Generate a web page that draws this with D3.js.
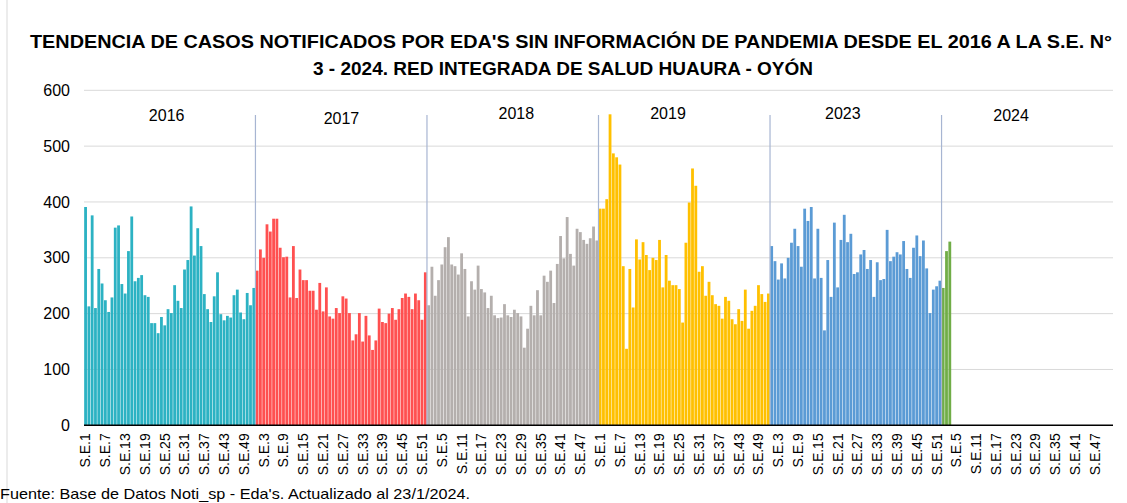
<!DOCTYPE html>
<html>
<head>
<meta charset="utf-8">
<script src="https://cdn.jsdelivr.net/npm/d3@7"></script>
<style>
  body { margin: 0; background: #fff; }
  svg { display: block; font-family: "Liberation Sans", Arial, sans-serif; }
</style>
</head>
<body>
<svg width="1127" height="503"></svg>
<script>
// weekly EDA cases
var years = ["2016", "2017", "2018", "2019", "2023", "2024"];
var cases2016 = [391,213,376,210,280,254,224,203,229,354,358,253,236,312,374,258,264,269,233,230,183,183,165,194,179,208,201,251,223,210,279,296,392,304,353,321,235,208,185,231,274,199,188,196,193,233,243,202,190,237,215,246];
var cases2017 = [277,315,300,360,347,370,370,318,301,302,229,321,228,279,260,260,241,241,207,255,204,247,195,191,210,201,231,227,201,152,163,201,150,196,161,135,152,209,185,183,200,210,189,208,228,236,230,208,236,224,189,274];
var cases2018 = [215,284,232,260,288,319,337,288,285,270,308,280,195,258,243,286,244,238,210,232,197,192,193,217,197,194,207,201,195,139,173,214,197,242,197,268,257,277,219,289,339,299,373,307,286,352,346,332,325,335,356,331];
var cases2019 = [388,388,405,557,487,480,467,285,137,280,211,333,297,328,305,278,300,296,332,247,305,259,251,251,244,184,327,399,460,429,275,285,232,257,233,217,214,191,230,223,190,181,208,187,243,173,205,214,251,235,221,236];
var cases2023 = [321,294,261,290,263,300,327,352,321,284,388,366,391,263,352,264,170,296,230,363,247,332,377,328,343,271,274,306,314,280,296,230,292,260,262,350,294,302,310,306,330,280,264,318,340,303,331,281,201,243,249,259];
var cases2024 = [246,312,329];
var yTicks = [0, 100, 200, 300, 400, 500, 600];

var weeksPerYear = 52;
var colors = ["#2CB2C3", "#FF5050", "#B4AFAD", "#FFC000", "#5B9BD5", "#70AD47"];
var labelWeek = [26, 27, 28, 22, 23, 22]; // where the year label sits inside its block
var labelY = [121, 124, 119, 119, 119, 121];

var allCases = [cases2016, cases2017, cases2018, cases2019, cases2023, cases2024];

// one category per week of every year (2024 keeps its empty weeks)
var cats = [];
years.forEach(function(yr, yi) {
    for (var w = 1; w <= weeksPerYear; w++) {
        cats.push({ key: yr + "-" + w, year: yr, yi: yi, week: w, value: allCases[yi][w - 1] });
    }
});
var bars = cats.filter(function(d) { return d.value !== undefined; });

var svg = d3.select("svg");
var plotL = 84, plotR = 1113, plotT = 90.3, plotB = 425.3;

var x = d3.scaleBand()
    .domain(cats.map(function(d) { return d.key; }))
    .range([plotL, plotR])
    .paddingInner(0.15)
    .paddingOuter(0.05);

var y = d3.scaleLinear()
    .domain([0, 600])
    .range([plotB, plotT]);

// frame line on the left
svg.append("line")
    .attr("x1", 7).attr("x2", 7).attr("y1", 0).attr("y2", 503)
    .attr("stroke", "#D9D9D9").attr("stroke-width", 1);

// title
svg.append("text")
    .attr("x", 571).attr("y", 48)
    .attr("text-anchor", "middle")
    .attr("font-size", 18).attr("font-weight", "bold").attr("fill", "#000")
    .attr("textLength", 1082).attr("lengthAdjust", "spacingAndGlyphs")
    .text("TENDENCIA DE CASOS NOTIFICADOS POR EDA'S SIN INFORMACIÓN DE PANDEMIA DESDE EL 2016 A LA S.E. N°");
svg.append("text")
    .attr("x", 563).attr("y", 75)
    .attr("text-anchor", "middle")
    .attr("font-size", 18).attr("font-weight", "bold").attr("fill", "#000")
    .attr("textLength", 500).attr("lengthAdjust", "spacingAndGlyphs")
    .text("3 - 2024. RED INTEGRADA DE SALUD HUAURA - OYÓN");

// gridlines
svg.append("g").selectAll("line")
    .data(yTicks.filter(function(t) { return t > 0; }))
    .enter().append("line")
    .attr("x1", plotL).attr("x2", plotR)
    .attr("y1", function(d) { return y(d); })
    .attr("y2", function(d) { return y(d); })
    .attr("stroke", "#D9D9D9").attr("stroke-width", 1);

// y axis labels
var yAxis = d3.axisLeft(y).tickValues(yTicks).tickSize(0).tickPadding(14);
var gy = svg.append("g").attr("transform", "translate(" + plotL + ",0)").call(yAxis);
gy.select(".domain").remove();
gy.selectAll("text").attr("font-size", 16).attr("fill", "#000")
    .attr("font-family", "Liberation Sans, Arial, sans-serif");

// bars
svg.append("g").selectAll("rect")
    .data(bars)
    .enter().append("rect")
    .attr("x", function(d) { return x(d.key); })
    .attr("y", function(d) { return y(d.value); })
    .attr("width", x.bandwidth())
    .attr("height", function(d) { return y(0) - y(d.value); })
    .attr("fill", function(d) { return colors[d.yi]; });

// year separators
var step = x.step();
svg.append("g").selectAll("line")
    .data(years.slice(1))
    .enter().append("line")
    .attr("x1", function(d) { return x(d + "-1") - step * 0.075; })
    .attr("x2", function(d) { return x(d + "-1") - step * 0.075; })
    .attr("y1", 115).attr("y2", plotB)
    .attr("stroke", "#A7B5D2").attr("stroke-width", 1.2);

// year labels
svg.append("g").selectAll("text")
    .data(years)
    .enter().append("text")
    .attr("x", function(d, i) { return x(d + "-" + labelWeek[i]); })
    .attr("y", function(d, i) { return labelY[i]; })
    .attr("text-anchor", "middle")
    .attr("font-size", 16).attr("fill", "#000")
    .text(function(d) { return d; });

// x axis
var xAxis = d3.axisBottom(x)
    .tickValues(cats.filter(function(d, i) { return i % 6 === 0; }).map(function(d) { return d.key; }))
    .tickFormat(function(k) { return "S.E." + k.split("-")[1]; })
    .tickSize(0);
var gx = svg.append("g").attr("transform", "translate(0," + plotB + ")").call(xAxis);
gx.select(".domain").attr("stroke", "#000").attr("stroke-width", 1.5)
    .attr("d", "M" + plotL + ",0H" + plotR);
gx.selectAll("text")
    .attr("font-size", 14).attr("fill", "#000")
    .attr("font-family", "Liberation Sans, Arial, sans-serif")
    .attr("transform", "rotate(-90)")
    .attr("text-anchor", "end")
    .attr("dy", "0.35em")
    .attr("x", -8).attr("y", 0);

// source note
svg.append("text")
    .attr("x", 0).attr("y", 499)
    .attr("font-size", 15).attr("fill", "#000")
    .attr("textLength", 470).attr("lengthAdjust", "spacingAndGlyphs")
    .text("Fuente: Base de Datos Noti_sp - Eda's. Actualizado al 23/1/2024.");
</script>
</body>
</html>
